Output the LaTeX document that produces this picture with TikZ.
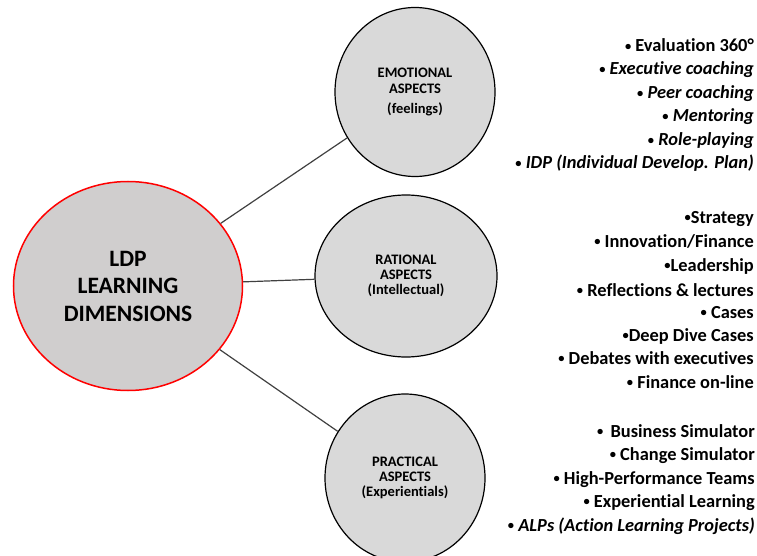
\documentclass[tikz,border=0pt]{standalone}
\usepackage{fontspec}
\setmainfont{Carlito}[Ligatures={NoCommon}]
\usetikzlibrary{shapes.geometric}
\definecolor{ldpgray}{HTML}{D0CECE}
\definecolor{aspgray}{HTML}{D9D9D9}
\definecolor{linkgray}{HTML}{404040}
\newcommand{\bul}{{\fontsize{12.5}{12.5}\selectfont\raisebox{1.2pt}{•}}}
\tikzset{
  dimension/.style={ellipse, draw=red, line width=1.5pt, fill=ldpgray, minimum width=229pt, minimum height=209pt, align=center, font=\fontsize{23.5}{27.5}\selectfont\bfseries},
  aspect/.style={ellipse, draw=black, line width=1.2pt, fill=aspgray, align=center, font=\fontsize{14.5}{15.3}\selectfont\bfseries},
  link/.style={linkgray, line width=1.2pt},
  item/.style={anchor=base east, inner sep=0pt, font=\fontsize{18.4}{20}\selectfont\bfseries}
}

\begin{document}
\begin{tikzpicture}[x=1pt,y=-1pt]
\useasboundingbox (0,0) rectangle (757,556);
%\draw[step=50,gray,very thin] (0,0) grid (757,556); %background grid
\node[dimension] (ldp) at (128,286) {LDP\\LEARNING\\DIMENSIONS};
\node[aspect, minimum width=160pt, minimum height=169pt] (emo) at (415,92) {EMOTIONAL\\ASPECTS\\[4.5pt](feelings)};
\node[aspect, minimum width=182pt, minimum height=162pt] (rat) at (406,276) {RATIONAL\\ASPECTS\\(Intellectual)};
\node[aspect, minimum width=160pt, minimum height=168pt] (pra) at (405,478) {PRACTICAL\\ASPECTS\\(Experientials)};
\draw[link] (ldp) -- (emo);
\draw[link] (ldp) -- (rat);
\draw[link] (ldp) -- (pra);
% emotional
\foreach \y/\t [count=\i] in {52/{\bul{} Evaluation 360°}, 75/{\bul{} \itshape Executive coaching}, 99/{\bul{} \itshape Peer coaching}, 122/{\bul{} \itshape Mentoring}, 146/{\bul{} \itshape Role-playing}, 169/{\bul{} \itshape IDP (Individual Develop. Plan)}}
  \node[item] (emo\i) at (754,\y) {\t};
% rational
\foreach \y/\t [count=\i] in {223/{\bul Strategy}, 247/{\bul{} Innovation/Finance}, 271/{\bul Leadership}, 296/{\bul{} Reflections \& lectures}, 318/{\bul{} Cases}, 341/{\bul Deep Dive Cases}, 364/{\bul{} Debates with executives}, 388/{\bul{} Finance on-line}}
  \node[item] (rat\i) at (754,\y) {\t};
% practical
\foreach \y/\t [count=\i] in {437/{\bul{} \,Business Simulator}, 460/{\bul{} Change Simulator}, 484/{\bul{} High-Performance Teams}, 507/{\bul{} Experiential Learning}, 531/{\bul{} \itshape ALPs (Action Learning Projects)}}
  \node[item] (pra\i) at (755,\y) {\t};
\end{tikzpicture}
\end{document}
